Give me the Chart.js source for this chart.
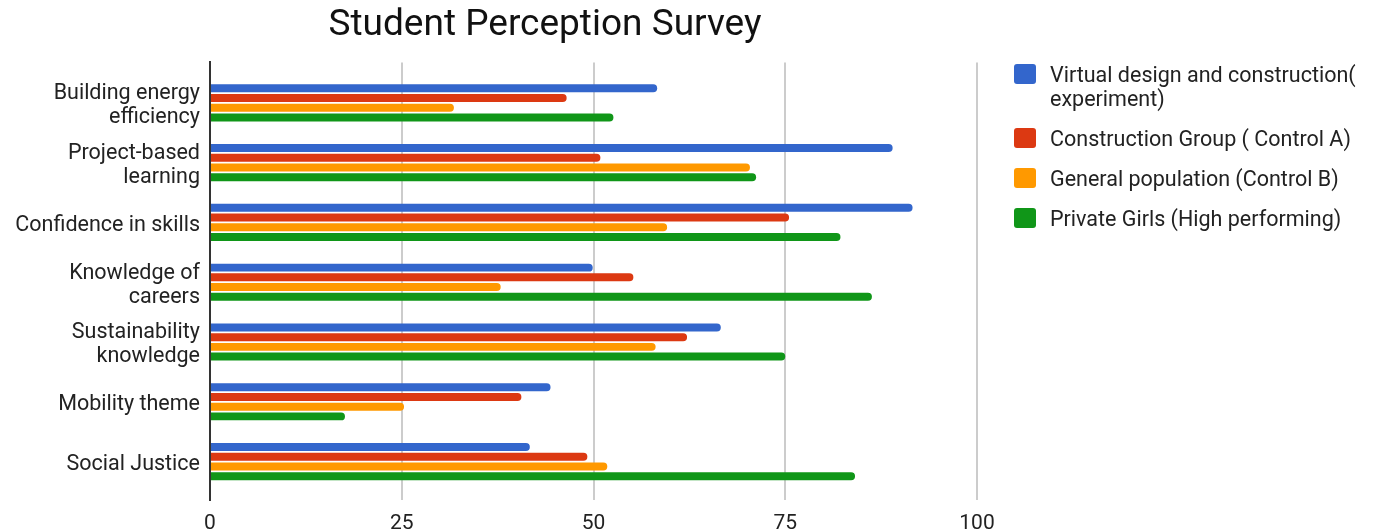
<!DOCTYPE html>
<html>
<head>
<meta charset="utf-8">
<script src="https://cdn.jsdelivr.net/npm/chart.js@4.4.1/dist/chart.umd.min.js"></script>
<style>
	html, body { margin: 0; padding: 0; background: #fff; }
	.container_chart { position: relative; width: 1381px; height: 531px; }
	.legend { position: absolute; left: 1014px; top: 63px; width: 366px; font-family: Roboto, sans-serif; font-size: 21.5px; line-height: 24px; color: #222; }
	.legend_item { display: flex; align-items: flex-start; margin-bottom: 16px; }
	.legend_box { width: 22px; height: 20px; border-radius: 3px; margin-top: 1px; margin-right: 14px; flex: none; }
</style>
</head>
<body>
<div class="container_chart">
	<canvas id="survey_chart" width="1381" height="531"></canvas>
	<div class="legend" id="legend"></div>
</div>
<script>
const categories = [
	["Building energy", "efficiency"],
	["Project-based", "learning"],
	"Confidence in skills",
	["Knowledge of", "careers"],
	["Sustainability", "knowledge"],
	"Mobility theme",
	"Social Justice"
];
const seriesNames = [
	"Virtual design and construction( experiment)",
	"Construction Group ( Control A)",
	"General population (Control B)",
	"Private Girls (High performing)"
];
const seriesColors = ["#3366cc", "#dc3912", "#ff9900", "#109618"];
const vdcValues = [58.3, 89.0, 91.6, 49.9, 66.6, 44.4, 41.7];
const controlAValues = [46.5, 50.9, 75.5, 55.2, 62.2, 40.6, 49.2];
const controlBValues = [31.8, 70.4, 59.6, 37.9, 58.1, 25.3, 51.8];
const girlsValues = [52.6, 71.2, 82.2, 86.3, 75.0, 17.6, 84.1];
const xTicks = [0, 25, 50, 75, 100];

const seriesValues = [vdcValues, controlAValues, controlBValues, girlsValues];

// title sits left of the plot centre in the original
const shiftTitle = {
	id: 'shiftTitle',
	afterLayout(chart){
		chart.titleBlock.left = 0;
		chart.titleBlock.right = 1090;
	}
};

new Chart(document.getElementById("survey_chart"), {
	type: 'bar',
	data: {
		labels: categories,
		datasets: seriesValues.map((values, i) => ({
			label: seriesNames[i],
			data: values,
			backgroundColor: seriesColors[i],
			borderWidth: 0,
			borderRadius: 4,
			categoryPercentage: 0.65,
			barPercentage: 0.82
		}))
	},
	options: {
		indexAxis: 'y',
		responsive: false,
		animation: false,
		layout: { padding: { left: 0, right: 404, top: 0, bottom: 0 } },
		scales: {
			x: {
				min: 0,
				max: 100,
				afterBuildTicks: (scale) => { scale.ticks = xTicks.map((v) => ({ value: v })); },
				afterFit: (scale) => { scale.height = 31; },
				grid: { color: '#cccccc', lineWidth: 2, drawTicks: false },
				border: { display: false },
				ticks: { color: '#222', padding: 11, font: { family: 'Roboto', size: 21 } }
			},
			y: {
				afterFit: (scale) => { scale.width = 210; },
				// leave a little room above the first and below the last group
				afterBuildTicks: (scale) => {
					scale._startValue = -0.676;
					scale._valueRange = 7.318;
				},
				grid: { display: false },
				border: { display: true, color: '#333', width: 2 },
				ticks: { color: '#222', padding: 2, labelOffset: 3, font: { family: 'Roboto', size: 21.5, lineHeight: 1.12 } }
			}
		},
		plugins: {
			title: {
				display: true,
				text: 'Student Perception Survey',
				color: '#111',
				font: { family: 'Roboto', size: 37, weight: 'normal' },
				padding: { top: 4, bottom: 14 }
			},
			legend: { display: false },
			tooltip: { enabled: false }
		}
	},
	plugins: [shiftTitle]
});

const legend = document.getElementById("legend");
seriesNames.forEach((name, i) => {
	const item = document.createElement("div");
	item.className = "legend_item";
	const box = document.createElement("span");
	box.className = "legend_box";
	box.style.background = seriesColors[i];
	const text = document.createElement("span");
	text.textContent = name;
	item.appendChild(box);
	item.appendChild(text);
	legend.appendChild(item);
});
</script>
</body>
</html>
